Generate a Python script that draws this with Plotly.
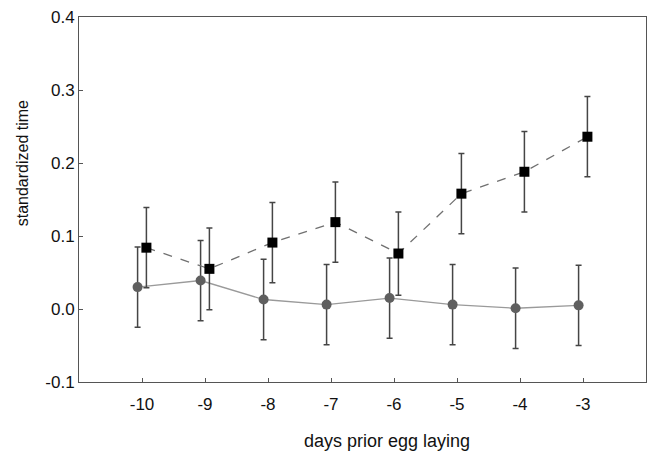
import plotly.graph_objects as go

days = [-10, -9, -8, -7, -6, -5, -4, -3]

# grey circles (solid line)
circle_vals = [0.030, 0.039, 0.013, 0.006, 0.015, 0.006, 0.001, 0.005]
circle_err = [0.055, 0.055, 0.055, 0.055, 0.055, 0.055, 0.055, 0.055]

# black squares (dashed line)
square_vals = [0.084, 0.055, 0.091, 0.119, 0.076, 0.158, 0.188, 0.236]
square_err = [0.055, 0.056, 0.055, 0.055, 0.057, 0.055, 0.055, 0.055]

x_tick_vals = [-10, -9, -8, -7, -6, -5, -4, -3]
x_tick_text = ["-10", "-9", "-8", "-7", "-6", "-5", "-4", "-3"]
y_tick_vals = [-0.1, 0.0, 0.1, 0.2, 0.3, 0.4]
y_tick_text = ["-0.1", "0.0", "0.1", "0.2", "0.3", "0.4"]

offset = 0.07
font = "Liberation Sans, Arial, sans-serif"

fig = go.Figure()
fig.add_trace(go.Scatter(
    x=[d - offset for d in days], y=circle_vals,
    mode="lines+markers",
    line=dict(color="#9a9a9a", width=1.3),
    marker=dict(symbol="circle", size=10, color="#5f5f5f"),
    error_y=dict(type="data", array=circle_err, color="#454545", thickness=1.5, width=3),
    showlegend=False,
))
fig.add_trace(go.Scatter(
    x=[d + offset for d in days], y=square_vals,
    mode="lines+markers",
    line=dict(color="#707070", width=1.3, dash="dash"),
    marker=dict(symbol="square", size=10, color="#000000"),
    error_y=dict(type="data", array=square_err, color="#454545", thickness=1.5, width=3),
    showlegend=False,
))

axis_common = dict(
    showgrid=False, zeroline=False,
    showline=True, linecolor="#555555", linewidth=1, mirror=True,
    ticks="inside", ticklen=4, tickcolor="#555555", tickwidth=1,
    tickfont=dict(family=font, size=17, color="#111111"),
)

fig.update_layout(
    width=649, height=452,
    margin=dict(l=79, r=3, t=17, b=70),
    paper_bgcolor="white", plot_bgcolor="white",
    xaxis=dict(range=[-11, -2], tickvals=x_tick_vals, ticktext=x_tick_text,
               ticklabelstandoff=7, **axis_common),
    yaxis=dict(range=[-0.1, 0.4], tickvals=y_tick_vals, ticktext=y_tick_text, **axis_common),
    annotations=[
        dict(text="days prior egg laying", xref="paper", yref="paper",
             x=0.543, y=-0.163, xanchor="center", yanchor="middle", showarrow=False,
             font=dict(family=font, size=18, color="#111111")),
        dict(text="standardized time", xref="paper", yref="paper",
             x=-0.1, y=0.6, xanchor="center", yanchor="middle", showarrow=False,
             textangle=-90,
             font=dict(family=font, size=16, color="#111111")),
    ],
)

fig.write_html("out.html", config={"displayModeBar": False},
               post_script="document.body.style.margin='0';document.body.style.padding='0';")
